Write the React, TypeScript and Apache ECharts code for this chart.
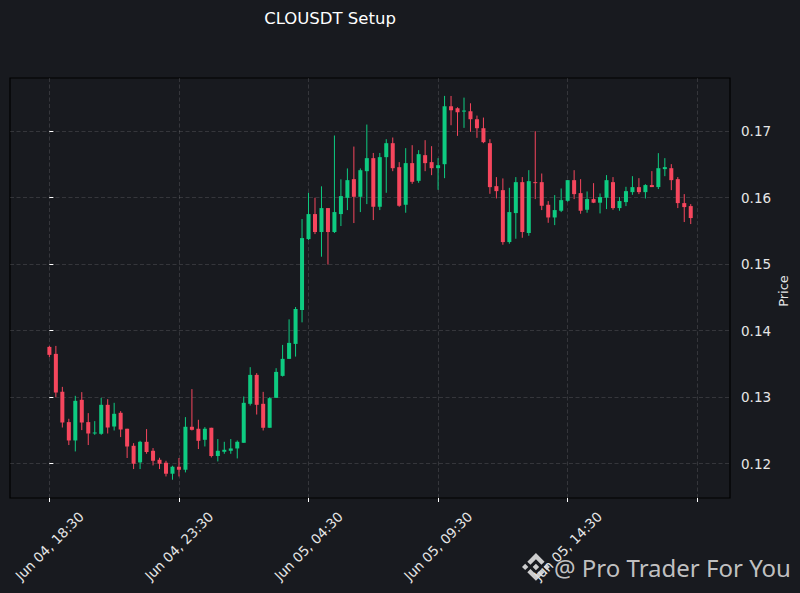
import React, { useEffect, useRef } from "react";
import * as echarts from "echarts";

const opens = [
  0.13757, 0.13652, 0.13081, 0.12626, 0.1235, 0.12961, 0.12626, 0.12455, 0.1245, 0.12886,
  0.1256, 0.12766, 0.12526, 0.1227, 0.1202, 0.1233, 0.12195, 0.1206, 0.12015, 0.1185,
  0.11955, 0.1191, 0.12556, 0.12526, 0.1236, 0.12541, 0.12116, 0.1218, 0.12195, 0.1223,
  0.12315, 0.12901, 0.13336, 0.12901, 0.12541, 0.12991, 0.13321, 0.13577, 0.13802, 0.14312,
  0.15378, 0.15754, 0.15484, 0.15844, 0.15484, 0.15754, 0.15998, 0.16279, 0.16014, 0.16399,
  0.16595, 0.15864, 0.1661, 0.1682, 0.16459, 0.15894, 0.1652, 0.16254, 0.1664, 0.16535,
  0.16444, 0.16504, 0.17375, 0.17345, 0.17295, 0.173, 0.1718, 0.17045, 0.1682, 0.16174,
  0.16114, 0.15333, 0.15769, 0.16234, 0.15469, 0.16234, 0.16234, 0.15894, 0.15703, 0.15804,
  0.15954, 0.16264, 0.16069, 0.15819, 0.15979, 0.15925, 0.15999, 0.16234, 0.15844, 0.15934,
  0.16084, 0.16159, 0.16084, 0.1619, 0.1616, 0.1643, 0.16444, 0.16279, 0.15919, 0.15874,
];
const closes = [
  0.13637, 0.13071, 0.1262, 0.1235, 0.12946, 0.1262, 0.12455, 0.1247, 0.12886, 0.12545,
  0.12751, 0.12515, 0.1226, 0.12, 0.1233, 0.12176, 0.12045, 0.12, 0.1185, 0.11955,
  0.1191, 0.12556, 0.1251, 0.12345, 0.12526, 0.12116, 0.12195, 0.1221, 0.1223, 0.1233,
  0.12916, 0.13336, 0.12886, 0.12541, 0.12986, 0.13381, 0.13577, 0.13817, 0.14327, 0.15393,
  0.15754, 0.15484, 0.15844, 0.15484, 0.15784, 0.16024, 0.16264, 0.16014, 0.16414, 0.16595,
  0.15864, 0.1661, 0.1682, 0.16444, 0.15879, 0.1652, 0.16239, 0.16655, 0.1652, 0.16444,
  0.16489, 0.17375, 0.17315, 0.17285, 0.1731, 0.1718, 0.17045, 0.16835, 0.16159, 0.16099,
  0.15333, 0.15784, 0.16234, 0.15484, 0.16249, 0.16224, 0.15879, 0.15703, 0.15814, 0.15964,
  0.16264, 0.16054, 0.15804, 0.15979, 0.15925, 0.1601, 0.16264, 0.15844, 0.1595, 0.16099,
  0.16159, 0.16084, 0.1619, 0.1616, 0.16444, 0.1646, 0.16264, 0.15919, 0.15859, 0.15694,
];
const lows = [
  0.13602, 0.13001, 0.12545, 0.12281, 0.12185, 0.12506, 0.12281, 0.12435, 0.12435, 0.12455,
  0.125, 0.12401, 0.12086, 0.1192, 0.1192, 0.1215, 0.11975, 0.1192, 0.11809, 0.1176,
  0.11809, 0.1187, 0.125, 0.12221, 0.1226, 0.12095, 0.12035, 0.1215, 0.1215, 0.1208,
  0.12315, 0.12876, 0.1274, 0.125, 0.12541, 0.12991, 0.13311, 0.13577, 0.13611, 0.14126,
  0.15363, 0.15453, 0.15113, 0.14995, 0.15469, 0.15574, 0.15814, 0.15619, 0.15784, 0.15904,
  0.15664, 0.15814, 0.16074, 0.16399, 0.15864, 0.15774, 0.16209, 0.16224, 0.16399, 0.16339,
  0.16119, 0.16294, 0.1709, 0.1693, 0.1705, 0.1699, 0.169, 0.1682, 0.16059, 0.15989,
  0.15293, 0.15308, 0.15383, 0.15398, 0.15428, 0.15979, 0.15814, 0.15623, 0.15588, 0.15784,
  0.15939, 0.15979, 0.15759, 0.15774, 0.15919, 0.15764, 0.15829, 0.15819, 0.15804, 0.15874,
  0.16044, 0.16054, 0.15989, 0.1616, 0.1613, 0.16324, 0.16114, 0.15844, 0.15634, 0.15604,
];
const highs = [
  0.13772, 0.13772, 0.13156, 0.12676, 0.13021, 0.13077, 0.12761, 0.12641, 0.12991, 0.12971,
  0.12916, 0.12791, 0.12526, 0.1231, 0.12345, 0.12521, 0.12236, 0.1209, 0.12045, 0.1197,
  0.12086, 0.12701, 0.13122, 0.12661, 0.12551, 0.12541, 0.12371, 0.1233, 0.12371, 0.1235,
  0.13011, 0.13452, 0.13362, 0.13081, 0.13001, 0.13437, 0.13787, 0.14171, 0.14357, 0.15679,
  0.16074, 0.16, 0.16171, 0.15844, 0.16935, 0.16276, 0.1644, 0.16769, 0.1644, 0.171,
  0.16673, 0.16673, 0.1688, 0.16905, 0.16535, 0.16745, 0.1679, 0.16715, 0.16865, 0.16775,
  0.16595, 0.17531, 0.1753, 0.1736, 0.17505, 0.1742, 0.17235, 0.17205, 0.1688, 0.1631,
  0.1629, 0.16149, 0.1631, 0.1631, 0.16414, 0.17, 0.16364, 0.15949, 0.16039, 0.16139,
  0.16264, 0.16414, 0.16279, 0.16094, 0.16219, 0.16064, 0.1634, 0.1631, 0.1601, 0.16164,
  0.16324, 0.16294, 0.16204, 0.164, 0.1667, 0.16595, 0.16505, 0.1631, 0.16054, 0.15904,
];

const tickIndexes = [0, 20, 40, 60, 80, 100];
const tickLabels = ["Jun 04, 18:30", "Jun 04, 23:30", "Jun 05, 04:30", "Jun 05, 09:30", "Jun 05, 14:30", ""];
const labelIndexes = [0, 20, 40, 60, 80];
const priceTicks = [0.12, 0.13, 0.14, 0.15, 0.16, 0.17];

const UP = "#0ecb81";
const DOWN = "#f6465d";
const BG = "#181a1f";
const TXT = "#e6e6e6";
const FONT = "DejaVu Sans";

const LOGO_D =
  "M38.171 53.203L62.759 28.616l24.6 24.6 14.307-14.307L62.759 0 23.864 38.896l14.307 14.307zM0 62.759l14.307-14.307 14.307 14.307-14.307 14.307zM38.171 72.315l24.588 24.587 24.599-24.599 14.315 14.3-.007.008-38.907 38.908-38.895-38.896-.02-.02zM97.211 62.759l14.307-14.307 14.307 14.307-14.307 14.307zM77.271 62.751h.006L62.759 48.233 52.03 58.961l-1.232 1.233-2.543 2.543-.02.02.02.021 14.504 14.504 14.518-14.518.007-.008-.013-.005z";

let logoRegistered = false;
function registerLogo() {
  if (logoRegistered) return;
  echarts.graphic.registerShape("binanceLogo", echarts.graphic.extendPath(LOGO_D, {}) as any);
  logoRegistered = true;
}

const gridLine = { show: true, lineStyle: { color: "rgba(255,255,255,0.16)", type: [4, 2.5] as any, width: 0.8 } };

export default function App() {
  const ref = useRef<HTMLDivElement>(null);
  useEffect(() => {
    if (!ref.current) return;
    registerLogo();
    const chart = echarts.init(ref.current, null, { renderer: "svg" });
    const data = opens.map((o, i) => [i, o, closes[i], lows[i], highs[i]]);
    chart.setOption({
      animation: false,
      backgroundColor: BG,
      textStyle: { fontFamily: FONT },
      grid: {
        left: 10,
        top: 78,
        width: 720,
        height: 420,
        show: true,
        borderColor: "#000000",
        borderWidth: 1.2,
        backgroundColor: BG,
        containLabel: false,
      },
      xAxis: {
        type: "value",
        min: -6.08,
        max: 105.06,
        axisLine: { show: false },
        axisTick: { show: true, customValues: tickIndexes, length: 4, inside: false, lineStyle: { color: "#ffffff", width: 1 } },
        axisLabel: {
          customValues: labelIndexes,
          formatter: (v: number) => tickLabels[tickIndexes.indexOf(Math.round(v))] || "",
          rotate: 45,
          align: "center",
          verticalAlign: "middle",
          margin: 48,
          color: TXT,
          fontSize: 13.5,
          fontFamily: FONT,
        },
        splitLine: gridLine,
      },
      yAxis: {
        type: "value",
        position: "right",
        min: 0.11485,
        max: 0.178,
        axisLine: { show: false },
        axisTick: { show: true, customValues: priceTicks, length: 4, inside: false, lineStyle: { color: "#ffffff", width: 1 } },
        axisLabel: {
          customValues: priceTicks,
          formatter: (v: number) => v.toFixed(2),
          margin: 11,
          color: TXT,
          fontSize: 13.5,
          fontFamily: FONT,
        },
        splitLine: gridLine,
      },
      series: [
        {
          type: "custom",
          data,
          encode: { x: 0, y: [1, 2, 3, 4] },
          renderItem: (params: any, api: any) => {
            const x = api.value(0);
            const o = api.value(1);
            const c = api.value(2);
            const l = api.value(3);
            const h = api.value(4);
            const pO = api.coord([x, o]);
            const pC = api.coord([x, c]);
            const pL = api.coord([x, l]);
            const pH = api.coord([x, h]);
            const w = api.size([0.62, 0])[0];
            const color = c >= o ? UP : DOWN;
            const top = Math.min(pO[1], pC[1]);
            const hgt = Math.max(Math.abs(pO[1] - pC[1]), 1);
            return {
              type: "group",
              children: [
                {
                  type: "line",
                  shape: { x1: pH[0], y1: pH[1], x2: pL[0], y2: pL[1] },
                  style: { stroke: color, lineWidth: 1 },
                },
                {
                  type: "rect",
                  shape: { x: pO[0] - w / 2, y: top, width: w, height: hgt },
                  style: { fill: color, stroke: null },
                },
              ],
            };
          },
        },
      ],
      graphic: [
        {
          type: "text",
          x: 330,
          y: 18,
          style: {
            text: "CLOUSDT Setup",
            fill: "#ffffff",
            font: `16.5px "${FONT}"`,
            align: "center",
            verticalAlign: "middle",
          },
        },
        {
          type: "text",
          x: 783,
          y: 291,
          rotation: Math.PI / 2,
          style: {
            text: "Price",
            fill: TXT,
            font: `13px "${FONT}"`,
            align: "center",
            verticalAlign: "middle",
          },
        },
        {
          type: "binanceLogo",
          x: 522,
          y: 553,
          scaleX: 0.222,
          scaleY: 0.222,
          style: { fill: "rgba(225,225,225,0.9)" },
          z: 100,
        },
        {
          type: "text",
          x: 554,
          y: 567,
          z: 100,
          style: {
            text: "@ Pro Trader For You",
            fill: "rgba(215,215,215,0.9)",
            font: `24px "Noto Sans"`,
            align: "left",
            verticalAlign: "middle",
          },
        },
      ],
    });
    return () => chart.dispose();
  }, []);
  return <div ref={ref} style={{ position: "fixed", left: 0, top: 0, width: 800, height: 593 }} />;
}
